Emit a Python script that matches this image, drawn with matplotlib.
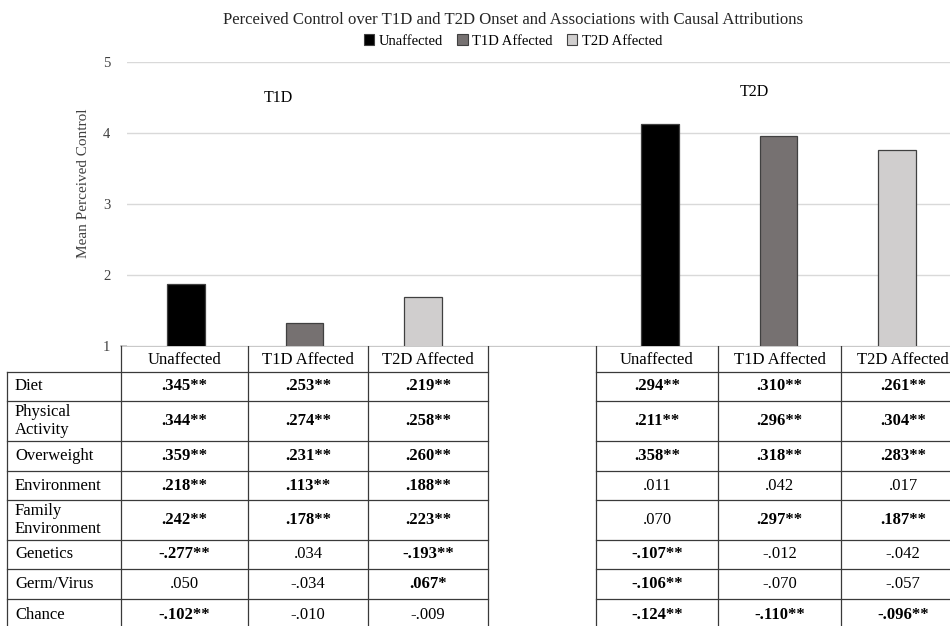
import numpy as np
import matplotlib
matplotlib.use("Agg")
import matplotlib.pyplot as plt
from matplotlib.patches import Patch

plt.rcParams['font.family'] = ['Liberation Serif', 'DejaVu Serif']

# ---- data ----
groups = ["T1D", "T2D"]
series = ["Unaffected", "T1D Affected", "T2D Affected"]
colors = ["#000000", "#767171", "#d0cece"]
t1d_means = [1.87, 1.33, 1.69]
t2d_means = [4.12, 3.96, 3.76]

attributions = ["Diet", "Physical\nActivity", "Overweight", "Environment",
                "Family\nEnvironment", "Genetics", "Germ/Virus", "Chance"]
t1d_corr = [[".345**", ".253**", ".219**"],
            [".344**", ".274**", ".258**"],
            [".359**", ".231**", ".260**"],
            [".218**", ".113**", ".188**"],
            [".242**", ".178**", ".223**"],
            ["-.277**", ".034", "-.193**"],
            [".050", "-.034", ".067*"],
            ["-.102**", "-.010", "-.009"]]
t2d_corr = [[".294**", ".310**", ".261**"],
            [".211**", ".296**", ".304**"],
            [".358**", ".318**", ".283**"],
            [".011", ".042", ".017"],
            [".070", ".297**", ".187**"],
            ["-.107**", "-.012", "-.042"],
            ["-.106**", "-.070", "-.057"],
            ["-.124**", "-.110**", "-.096**"]]

W, H = 950, 626
fig = plt.figure(figsize=(W / 100, H / 100), dpi=100)

# ---- bar chart ----
ax = fig.add_axes([127 / W, (H - 346) / H, (W - 127) / W, 284 / H])
width = 0.32
for i, name in enumerate(series):
    ax.bar([i, 4 + i], [t1d_means[i], t2d_means[i]], width=width,
           color=colors[i], edgecolor="#404040", linewidth=0.9, zorder=3)
ax.set_xlim(-0.498, 6.447)
ax.set_ylim(1, 5)
ax.set_yticks([1, 2, 3, 4, 5])
ax.set_xticks([])
ax.tick_params(axis="y", length=0, pad=12, labelsize=10.5, labelcolor="#404040")
ax.grid(axis="y", color="#d9d9d9", linewidth=1, zorder=0)
for s in ax.spines.values():
    s.set_visible(False)
ax.set_ylabel("Mean Perceived Control", fontsize=11, color="#404040")
ax.yaxis.set_label_coords(-0.045, 0.574)

fig.text(278 / W, 1 - 98 / H, groups[0], ha="center", va="center", fontsize=11.5)
fig.text(754 / W, 1 - 92 / H, groups[1], ha="center", va="center", fontsize=11.5)

fig.text(513 / W, 1 - 20 / H,
         "Perceived Control over T1D and T2D Onset and Associations with Causal Attributions",
         ha="center", va="center", fontsize=12.1, color="#262626")
handles = [Patch(facecolor=c, edgecolor="#404040", linewidth=0.8) for c in colors]
fig.legend(handles, series, loc="center", bbox_to_anchor=(513 / W, 1 - 41 / H),
           ncol=3, frameon=False, fontsize=10.5, handlelength=0.7, handleheight=0.7,
           handletextpad=0.3, columnspacing=1.0)

# ---- table ----
tab = fig.add_axes([0, 0, 1, 1], zorder=-1)
tab.set_xlim(0, W)
tab.set_ylim(H, 0)
tab.axis("off")

lc, lw = "#3a3a3a", 0.9
left_cols = [7, 121, 248, 368, 488]
right_cols = [596, 718, 841, 965]
head_top, head_bot = 346, 372
rows = [372, 401, 441, 471, 500, 540, 569, 599, 631]

tab.plot([121, W], [head_top, head_top], color="#bfbfbf", lw=1.2)
# horizontal lines
for y in rows:
    tab.plot([left_cols[0], left_cols[-1]], [y, y], color=lc, lw=lw)
    tab.plot([right_cols[0], W], [y, y], color=lc, lw=lw)
# vertical lines
for x in left_cols[1:] + right_cols[:-1]:
    tab.plot([x, x], [head_top, rows[-1]], color=lc, lw=lw)
tab.plot([left_cols[0]] * 2, [head_bot, rows[-1]], color=lc, lw=lw)

def column_centres(edges):
    return [(a + b) / 2 for a, b in zip(edges[:-1], edges[1:])]

lcent = column_centres(left_cols[1:])
rcent = column_centres(right_cols)
for j, name in enumerate(series):
    tab.text(lcent[j], (head_top + head_bot) / 2 + 1, name, ha="center", va="center", fontsize=12)
    tab.text(rcent[j], (head_top + head_bot) / 2 + 1, name, ha="center", va="center", fontsize=12)

for r, label in enumerate(attributions):
    yc = (rows[r] + rows[r + 1]) / 2
    if r == len(attributions) - 1:
        yc = 615
    tab.text(15, yc, label, ha="left", va="center", fontsize=12, linespacing=1.2)
    for j in range(3):
        for cents, table in ((lcent, t1d_corr), (rcent, t2d_corr)):
            val = table[r][j]
            tab.text(cents[j], yc, val, ha="center", va="center", fontsize=12,
                     fontweight="bold" if "*" in val else "normal")

fig.savefig("out.png", dpi=100)
